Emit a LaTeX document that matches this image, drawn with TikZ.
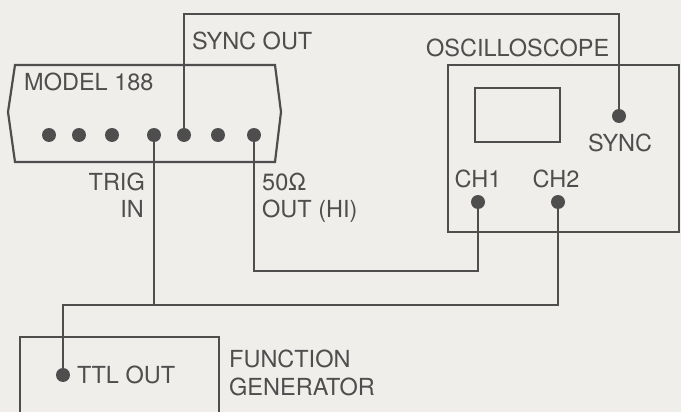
\documentclass[tikz,border=0pt]{standalone}
\usepackage{fontspec}
\setmainfont{TeX Gyre Heros}
\begin{document}
\begin{tikzpicture}[x=1pt,y=-1pt,
  boxline/.style={draw=inkc,line width=2.2pt,line join=miter},
  wire/.style={draw=inkc,line width=2.6pt},
  jack/.style={circle,fill=inkc,inner sep=0pt,minimum size=14pt},
  lbl/.style={text=inkc,inner sep=0pt,font=\fontsize{23.5}{27}\selectfont}]
\definecolor{inkc}{RGB}{78,78,78}
\definecolor{paper}{RGB}{239,238,235}
\useasboundingbox[fill=paper] (0,0) rectangle (681,412);
% Model 188 box
\draw[boxline] (15,65) -- (275,65) -- (281,112) -- (275,162) -- (15,162) -- (8,112) -- cycle;
\node[lbl,anchor=base west] (m188) at (24,91) {MODEL 188};
\foreach \i/\x in {1/49,2/79,3/112,4/154,5/184,6/218,7/254}
  \node[jack] (d\i) at (\x,135) {};
% Oscilloscope
\draw[boxline] (448,65) rectangle (679,232);
\draw[boxline] (475,88) rectangle (560,142);
\node[lbl,anchor=base west] (osc) at (426,57) {OSCILLOSCOPE};
\node[jack] (sync) at (619,116) {};
\node[jack] (ch1) at (478,202) {};
\node[jack] (ch2) at (558,202) {};
\node[lbl,anchor=base] (synclbl) at (620,152) {SYNC};
\node[lbl,anchor=base] (ch1lbl) at (478,187) {CH1};
\node[lbl,anchor=base] (ch2lbl) at (556,187) {CH2};
% Function generator
\draw[boxline] (20,420) -- (20,337) -- (219,337) -- (219,420);
\node[jack] (ttl) at (63,375) {};
\node[lbl,anchor=base west] (ttllbl) at (77,383) {TTL OUT};
\node[lbl,anchor=base west] (fg1) at (229,367) {FUNCTION};
\node[lbl,anchor=base west] (fg2) at (229,395) {GENERATOR};
% Labels at Model 188
\node[lbl,anchor=base west] (syncout) at (192,50) {SYNC OUT};
\node[lbl,anchor=base east] (trig) at (145,190) {TRIG};
\node[lbl,anchor=base east] (trigin) at (144,217) {IN};
\node[lbl,anchor=base west] (ohm) at (262,190) {50Ω};
\node[lbl,anchor=base west] (outhi) at (262,217) {OUT (HI)};
% Wires
\coordinate (top) at (400,14);
\coordinate (lowrun) at (300,271);
\coordinate (jt) at (154,305);
\draw[wire] (d5.center) |- (sync.center |- top) -- (sync.center);
\draw[wire] (d7.center) |- (lowrun) -| (ch1.center);
\draw[wire] (d4.center) -- (jt);
\draw[wire] (ttl.center) |- (jt) -| (ch2.center);
\end{tikzpicture}
\end{document}
